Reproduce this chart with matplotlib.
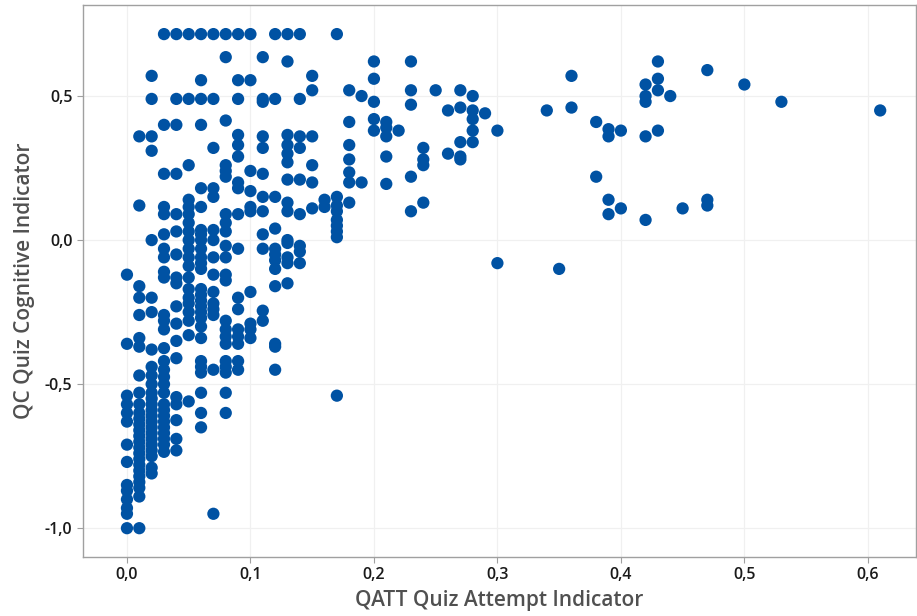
import matplotlib
matplotlib.use("Agg")
import matplotlib.pyplot as plt
from matplotlib.ticker import FuncFormatter

# QC values per QATT level (dense left part of the cloud)
qc_000 = [-0.12, -0.36, -0.54, -0.57, -0.60, -0.63, -0.71, -0.77, -0.85, -0.87, -0.90, -0.93, -0.95, -1.00]
qc_001 = [0.36, 0.12, -0.16, -0.20, -0.26, -0.34, -0.37, -0.47, -0.53, -0.57, -0.60, -0.62, -0.64, -0.66,
          -0.68, -0.70, -0.72, -0.74, -0.76, -0.78, -0.80, -0.82, -0.84, -0.86, -0.89, -1.00]
qc_002 = [0.57, 0.49, 0.36, 0.31, 0.00, -0.20, -0.25, -0.38, -0.44, -0.47, -0.50, -0.53, -0.55, -0.57,
          -0.59, -0.61, -0.63, -0.65, -0.67, -0.69, -0.71, -0.73, -0.75, -0.79, -0.81]
qc_003 = [0.715, 0.40, 0.23, 0.115, 0.09, 0.02, -0.03, -0.06, -0.11, -0.13, -0.26, -0.28, -0.31, -0.375,
          -0.42, -0.45, -0.475, -0.50, -0.53, -0.57, -0.59, -0.61, -0.63, -0.65, -0.67, -0.69, -0.71, -0.735]
qc_004 = [0.715, 0.49, 0.40, 0.23, 0.09, 0.03, -0.05, -0.13, -0.15, -0.23, -0.29, -0.35, -0.41, -0.545,
          -0.57, -0.625, -0.69, -0.73]
qc_005 = [0.715, 0.49, 0.26, 0.14, 0.115, 0.09, 0.06, 0.03, 0.00, -0.03, -0.06, -0.09, -0.13, -0.17,
          -0.20, -0.22, -0.25, -0.28, -0.33, -0.56]
qc_006 = [0.715, 0.555, 0.49, 0.40, 0.18, 0.115, 0.035, 0.02, 0.00, -0.03, -0.06, -0.08, -0.10, -0.17,
          -0.19, -0.21, -0.23, -0.25, -0.27, -0.30, -0.34, -0.42, -0.44, -0.46, -0.53, -0.60, -0.65]
qc_007 = [0.715, 0.49, 0.32, 0.18, 0.15, 0.035, 0.00, -0.06, -0.12, -0.18, -0.22, -0.24, -0.26, -0.45, -0.95]
qc_008 = [0.715, 0.635, 0.415, 0.26, 0.24, 0.22, 0.09, 0.06, 0.03, -0.02, -0.06, -0.12, -0.14, -0.28,
          -0.31, -0.335, -0.36, -0.42, -0.44, -0.46, -0.53, -0.60]
qc_009 = [0.715, 0.555, 0.49, 0.365, 0.33, 0.29, 0.20, 0.18, 0.09, -0.03, -0.20, -0.24, -0.31, -0.335,
          -0.36, -0.42, -0.45]
qc_010 = [0.715, 0.555, 0.24, 0.17, 0.115, 0.10, -0.18, -0.29, -0.31, -0.34]
qc_011 = [0.635, 0.49, 0.48, 0.36, 0.32, 0.23, 0.15, 0.10, 0.02, -0.03, -0.245, -0.28]
qc_012 = [0.715, 0.49, 0.15, 0.04, -0.03, -0.05, -0.07, -0.10, -0.16, -0.36, -0.37, -0.45]
qc_013 = [0.715, 0.62, 0.365, 0.33, 0.30, 0.27, 0.21, 0.13, 0.10, 0.00, -0.01, -0.06, -0.08, -0.15]
qc_014 = [0.715, 0.49, 0.36, 0.32, 0.21, 0.09, -0.02, -0.04, -0.08]
qc_015 = [0.57, 0.52, 0.36, 0.26, 0.20, 0.11]
qc_016 = [0.14, 0.115]
qc_017 = [0.715, 0.15, 0.12, 0.10, 0.07, 0.05, 0.03, 0.01, -0.54]

qatt_levels = [0.00, 0.01, 0.02, 0.03, 0.04, 0.05, 0.06, 0.07, 0.08,
               0.09, 0.10, 0.11, 0.12, 0.13, 0.14, 0.15, 0.16, 0.17]
qc_columns = [qc_000, qc_001, qc_002, qc_003, qc_004, qc_005, qc_006, qc_007, qc_008,
              qc_009, qc_010, qc_011, qc_012, qc_013, qc_014, qc_015, qc_016, qc_017]

# sparser right part, as (qatt, qc) pairs
far_qatt = [0.18, 0.18, 0.18, 0.18, 0.18, 0.18, 0.18, 0.19, 0.19,
            0.20, 0.20, 0.20, 0.20, 0.20, 0.21, 0.21, 0.21, 0.21, 0.21, 0.22,
            0.23, 0.23, 0.23, 0.23, 0.23, 0.24, 0.24, 0.24, 0.24, 0.25, 0.26, 0.26,
            0.27, 0.27, 0.27, 0.27, 0.27, 0.28, 0.28, 0.28, 0.28, 0.28, 0.29,
            0.30, 0.30, 0.34, 0.35, 0.36, 0.36, 0.38, 0.38, 0.39, 0.39, 0.39, 0.39,
            0.40, 0.40, 0.42, 0.42, 0.42, 0.42, 0.42, 0.43, 0.43, 0.43, 0.43, 0.44,
            0.45, 0.47, 0.47, 0.47, 0.50, 0.53, 0.61]
far_qc = [0.52, 0.41, 0.33, 0.28, 0.235, 0.20, 0.13, 0.50, 0.20,
          0.62, 0.56, 0.48, 0.42, 0.38, 0.41, 0.39, 0.36, 0.29, 0.195, 0.38,
          0.62, 0.52, 0.47, 0.22, 0.10, 0.32, 0.28, 0.26, 0.13, 0.52, 0.45, 0.30,
          0.52, 0.46, 0.34, 0.29, 0.28, 0.50, 0.45, 0.42, 0.38, 0.34, 0.44,
          0.38, -0.08, 0.45, -0.10, 0.57, 0.46, 0.41, 0.22, 0.385, 0.36, 0.14, 0.09,
          0.38, 0.11, 0.54, 0.50, 0.48, 0.36, 0.07, 0.62, 0.56, 0.52, 0.38, 0.50,
          0.11, 0.59, 0.14, 0.12, 0.54, 0.48, 0.45]

xs, ys = [], []
for lvl, col in zip(qatt_levels, qc_columns):
    xs += [lvl] * len(col)
    ys += col
xs += far_qatt
ys += far_qc

plt.rcParams['font.family'] = ['Open Sans', 'DejaVu Sans']

fig = plt.figure(figsize=(9.17, 6.16), dpi=100)
ax = fig.add_axes([83 / 917, 1 - 557 / 616, 833 / 917, 552 / 616])

ax.scatter(xs, ys, s=78, color='#0052a3', edgecolors='none', zorder=3)

ax.set_xlim(-0.0356, 0.639)
ax.set_ylim(-1.10, 0.816)
ax.set_xticks([0.0, 0.1, 0.2, 0.3, 0.4, 0.5, 0.6])
ax.set_yticks([-1.0, -0.5, 0.0, 0.5])
comma = FuncFormatter(lambda v, pos: f"{v:.1f}".replace('.', ',').replace('-0,0', '0,0'))
ax.xaxis.set_major_formatter(comma)
ax.yaxis.set_major_formatter(comma)

ax.grid(True, color='#f0f0f0', linewidth=0.9, zorder=0)
for side in ['left', 'bottom', 'top', 'right']:
    ax.spines[side].set_color('#a0a0a0')
    ax.spines[side].set_linewidth(1.0)
ax.tick_params(axis='both', colors='#a0a0a0', length=4, width=0.8,
               labelcolor='#1a1a1a', labelsize=11.5)
for lab in ax.get_xticklabels() + ax.get_yticklabels():
    lab.set_fontweight('semibold')

ax.set_xlabel('QATT Quiz Attempt Indicator', fontsize=15, color='#505050',
              fontweight='semibold', labelpad=5)
ax.set_ylabel('QC Quiz Cognitive Indicator', fontsize=15, color='#505050',
              fontweight='semibold', labelpad=7)

fig.savefig('out.png', dpi=100)
